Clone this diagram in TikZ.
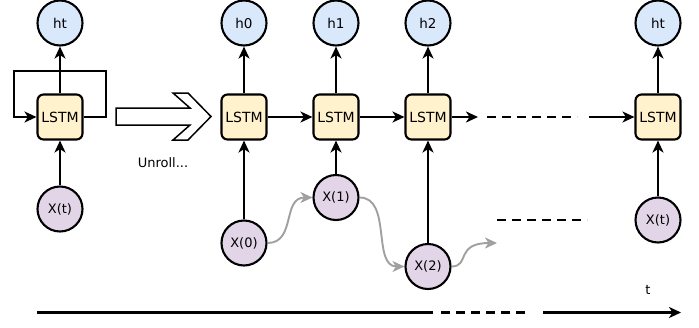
\documentclass[tikz,border=0pt]{standalone}
\usepackage{fontspec}
\setmainfont{DejaVu Sans}
\usetikzlibrary{arrows.meta}
\definecolor{hblue}{HTML}{DAE8FC}
\definecolor{lyellow}{HTML}{FFF2CC}
\definecolor{xpurple}{HTML}{E1D5E7}
\definecolor{cgray}{HTML}{A0A0A0}
\tikzset{
  hnode/.style={circle,draw=black,line width=2.1pt,fill=hblue,minimum size=45pt,inner sep=0pt,font=\fontsize{13.5}{15}\selectfont},
  xnode/.style={circle,draw=black,line width=2.1pt,fill=xpurple,minimum size=45pt,inner sep=0pt,font=\fontsize{13}{15}\selectfont},
  lbox/.style={rectangle,rounded corners=6pt,draw=black,line width=2.1pt,fill=lyellow,minimum width=45pt,minimum height=45pt,inner sep=0pt,font=\fontsize{14}{16}\selectfont},
  conn/.style={line width=2.1pt,-{Stealth[length=12pt,width=11pt,inset=3.5pt]}},
  plain/.style={line width=2.1pt},
  dashline/.style={line width=2.1pt,dash pattern=on 9pt off 6pt},
  gconn/.style={line width=1.9pt,cgray,-{Stealth[length=12pt,width=11pt,inset=3.5pt]}},
  txt/.style={font=\fontsize{13}{15}\selectfont,inner sep=0pt}
}
\begin{document}
\begin{tikzpicture}[x=1pt,y=-1pt]
\useasboundingbox (0,0) rectangle (699,327);
% left folded cell
\node[hnode] (hl) at (60,23) {ht};
\node[lbox] (ll) at (60,117) {LSTM};
\node[xnode] (xl) at (60,209) {X(t)};
\draw[conn] (ll) -- (hl);
\draw[conn] (xl) -- (ll);
\coordinate (lr) at (106,117);
\coordinate (lrt) at (106,71);
\coordinate (llt) at (14,71);
\coordinate (llb) at (14,117);
\draw[conn] (ll.east) -- (lr) -- (lrt) -- (llt) -- (llb) -- (ll.west);
% big hollow arrow
\draw[line width=1.5pt,fill=white,line join=miter]
  (116,108) -- (190,108) -- (173,93) -- (188,93) -- (211,116.5) -- (188,140) -- (173,140) -- (190,125) -- (116,125) -- cycle;
\node[txt] (unroll) at (163,163) {Unroll...};
% unrolled
\node[hnode] (h0) at (244,23) {h0};
\node[lbox] (l0) at (244,117) {LSTM};
\node[xnode] (x0) at (244,243) {X(0)};
\node[hnode] (h1) at (336,23) {h1};
\node[lbox] (l1) at (336,117) {LSTM};
\node[xnode] (x1) at (336,197.5) {X(1)};
\node[hnode] (h2) at (428,23) {h2};
\node[lbox] (l2) at (428,117) {LSTM};
\node[xnode] (x2) at (428,266.5) {X(2)};
\node[hnode] (hT) at (658,23) {ht};
\node[lbox] (lT) at (658,117) {LSTM};
\node[xnode] (xT) at (658,220) {X(t)};
\foreach \n in {0,1,2,T}{
  \draw[conn] (l\n) -- (h\n);
  \draw[conn] (x\n) -- (l\n);
}
\draw[conn] (l0) -- (l1);
\draw[conn] (l1) -- (l2);
\coordinate (l2end) at (478,117);
\draw[conn] (l2) -- (l2end);
\coordinate (da) at (487,117);
\coordinate (db) at (577,117);
\draw[dashline] (da) -- (db);
\coordinate (ls) at (589,117);
\draw[conn] (ls) -- (lT);
% gray curves
\draw[gconn] (x0.east) .. controls (296,243) and (282,197.5) .. (x1.west);
\draw[gconn] (x1.east) .. controls (392,197.5) and (372,266.5) .. (x2.west);
\coordinate (gend) at (497,243);
\draw[gconn] (x2.east) .. controls (470,266.5) and (455,243) .. (gend);
\coordinate (ma) at (497,220);
\coordinate (mb) at (587,220);
\draw[dashline] (ma) -- (mb);
% time axis
\coordinate (t0) at (37,312.5);
\coordinate (t1) at (433,312.5);
\coordinate (t2) at (441,312.5);
\coordinate (t3) at (530,312.5);
\coordinate (t4) at (543,312.5);
\coordinate (t5) at (681,312.5);
\draw[plain] (t0) -- (t1);
\draw[dashline] (t2) -- (t3);
\draw[conn] (t4) -- (t5);
\node[txt] (tl) at (648,290) {t};
\end{tikzpicture}
\end{document}
